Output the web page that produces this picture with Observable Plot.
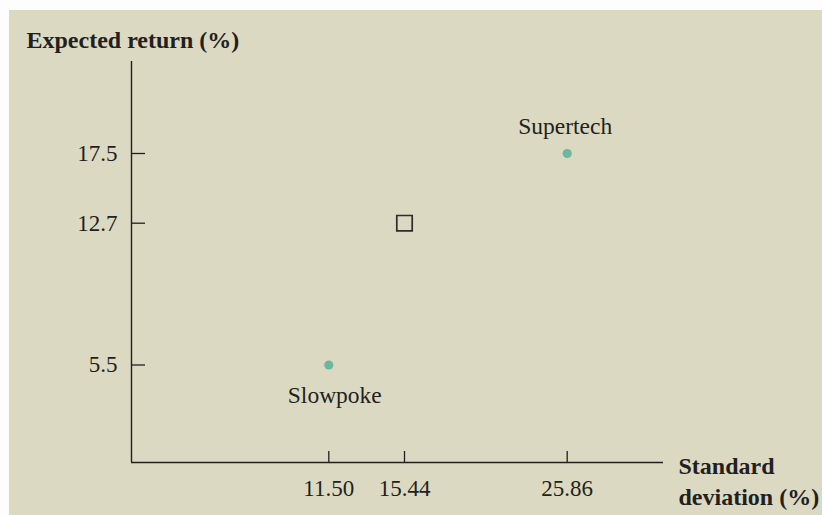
<!DOCTYPE html>
<html>
<head>
<meta charset="utf-8">
<script src="https://cdn.jsdelivr.net/npm/d3@7"></script>
<script src="https://cdn.jsdelivr.net/npm/@observablehq/plot@0.6"></script>
<style>
  html, body { margin: 0; padding: 0; background: #fdfdfd; }
  #chart svg { display: block; }
</style>
</head>
<body>
<div id="chart"></div>
<script>
// ---- data ----
const stockNames = ["Slowpoke", "Supertech"];
const stockSD = [11.50, 25.86];        // standard deviation (%)
const stockReturn = [5.5, 17.5];       // expected return (%)
const portfolioSD = [15.44];
const portfolioReturn = [12.7];
const xTicks = [11.50, 15.44, 25.86];
const yTicks = [5.5, 12.7, 17.5];
const xTitle = "Standard\ndeviation (%)";
const yTitle = "Expected return (%)";

const stocks = stockNames.map((name, i) => ({name, sd: stockSD[i], ret: stockReturn[i]}));
const portfolio = portfolioSD.map((sd, i) => ({sd, ret: portfolioReturn[i]}));

const ink = "#231f20";
const font = "'Liberation Serif', 'Times New Roman', serif";

const chart = Plot.plot({
  width: 822,
  height: 515,
  marginLeft: 131,
  marginRight: 159,
  marginTop: 61,
  marginBottom: 53,
  style: {
    fontFamily: font,
    fontSize: "23px",
    color: ink,
    background: "linear-gradient(#dcd9c3, #dcd9c3) no-repeat 9px 10px / 100% 100%, #fdfdfd",
    overflow: "visible"
  },
  x: {
    type: "linear",
    domain: [0, 11.5, 15.44, 25.86, 31.66],
    range: [131, 328.3, 404, 566.7, 663]
  },
  y: {
    type: "linear",
    domain: [0, 5.5, 12.7, 17.5, 22.8],
    range: [462, 364.5, 222.7, 153, 61]
  },
  marks: [
    Plot.ruleY([0], {stroke: ink, strokeWidth: 1.4}),
    Plot.ruleX([0], {stroke: ink, strokeWidth: 1.4}),
    Plot.axisX({
      ticks: xTicks, tickFormat: d3.format(".2f"), tickSize: -11, tickPadding: 28,
      stroke: ink, strokeWidth: 1.3, fontSize: 23, label: null
    }),
    Plot.axisY({
      ticks: yTicks, tickFormat: d3.format(".1f"), tickSize: -14, tickPadding: 28,
      stroke: ink, strokeWidth: 1.3, fontSize: 23, label: null
    }),
    Plot.dot(stocks, {x: "sd", y: "ret", r: 4.6, fill: "#6db6a1", stroke: "none"}),
    Plot.dot(portfolio, {x: "sd", y: "ret", symbol: "square", r: 8.7, fill: "none", stroke: "#2e2b2a", strokeWidth: 1.7}),
    Plot.text(stocks.filter(d => d.name === "Supertech"), {x: "sd", y: "ret", text: "name", dy: -27, dx: -2, fontSize: 23.5, fill: ink}),
    Plot.text(stocks.filter(d => d.name === "Slowpoke"), {x: "sd", y: "ret", text: "name", dy: 30, dx: 6, fontSize: 23.5, fill: ink}),
    Plot.text([yTitle], {frameAnchor: "top-left", textAnchor: "start", lineAnchor: "bottom", dx: -105, dy: -14, fontSize: 24, fontWeight: "bold", fill: ink}),
    Plot.text([xTitle], {frameAnchor: "bottom-right", textAnchor: "start", lineAnchor: "top", dx: 15, dy: -10, lineHeight: 1.29, fontSize: 24, fontWeight: "bold", fill: ink})
  ]
});

document.getElementById("chart").append(chart);
</script>
</body>
</html>
